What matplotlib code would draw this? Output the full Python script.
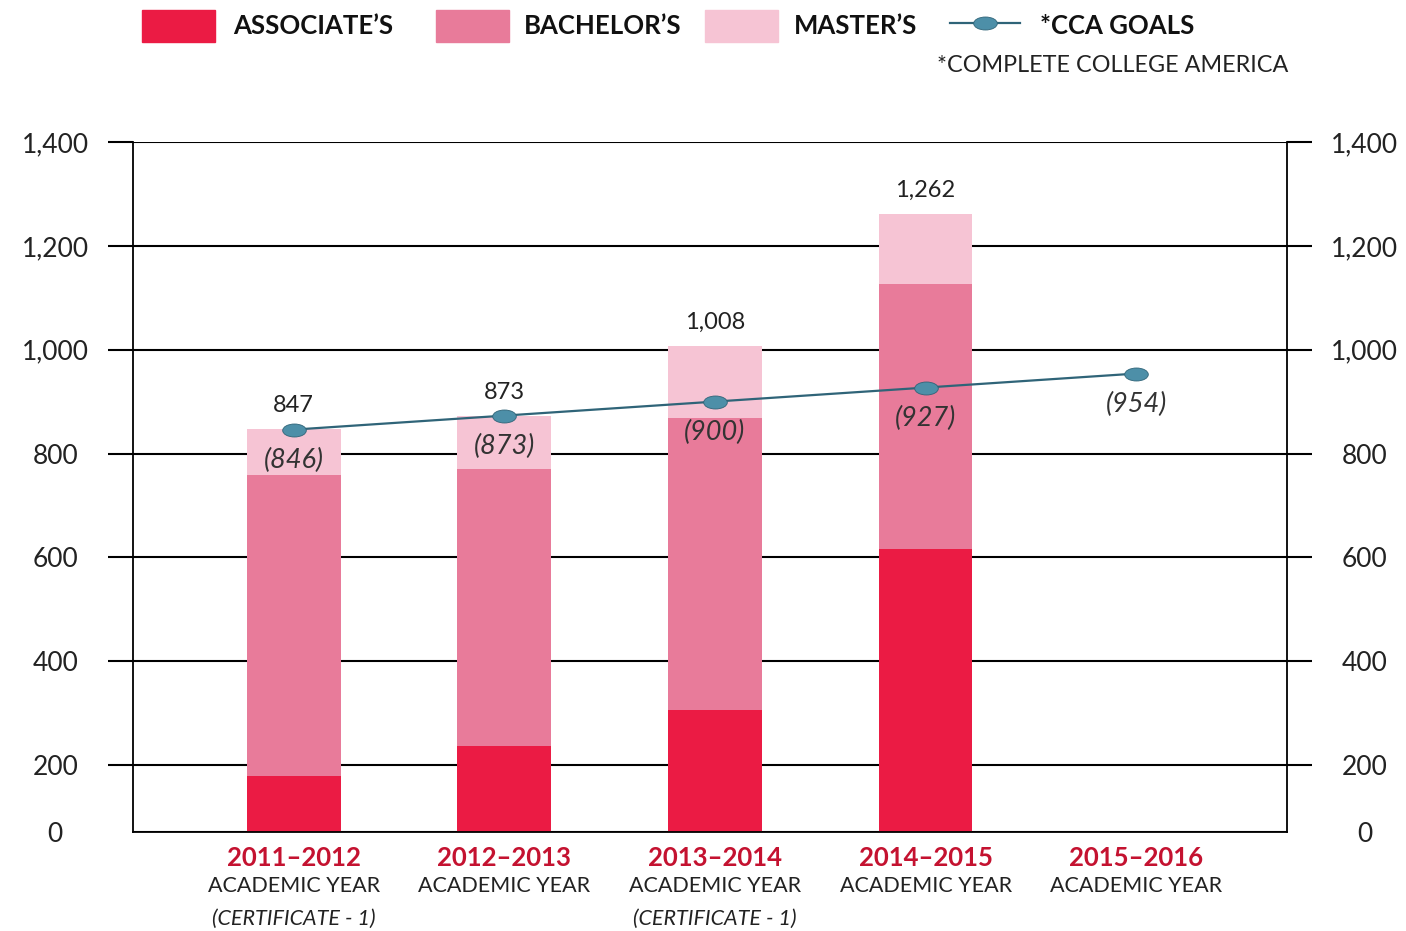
import matplotlib
matplotlib.use("Agg")
import matplotlib.pyplot as plt
import numpy as np
from matplotlib.patches import Rectangle
from matplotlib.lines import Line2D
from matplotlib.path import Path
from matplotlib.transforms import Affine2D

plt.rcParams['font.family'] = ['Lato', 'DejaVu Sans']

# datos
anios = ['2011–2012', '2012–2013', '2013–2014', '2014–2015', '2015–2016']
notas = ['(CERTIFICATE - 1)', '', '(CERTIFICATE - 1)', '', '']
asociado = [179, 237, 306, 617]
grado = [579, 534, 563, 510]
master = [89, 102, 139, 135]
metas_cca = [846, 873, 900, 927, 954]
ticks_y = [200, 400, 600, 800, 1000, 1200, 1400]

c_asoc = '#EB1B44'
c_grado = '#E87B9A'
c_master = '#F6C4D4'
c_linea = '#2F6478'
c_punto = '#4D8FA8'
c_anio = '#C41230'

fig = plt.figure(figsize=(14.06, 9.31), dpi=100)
ax = fig.add_axes([133 / 1406, 1 - 832 / 931, (1287 - 133) / 1406, (832 - 142) / 931])

x = np.arange(len(anios))
xb = x[:len(asociado)]
asociado = np.array(asociado)
grado = np.array(grado)
master = np.array(master)
total = asociado + grado + master

ancho = 0.445
ax.bar(xb, asociado, ancho, color=c_asoc, zorder=2)
ax.bar(xb, grado, ancho, bottom=asociado, color=c_grado, zorder=2)
ax.bar(xb, master, ancho, bottom=asociado + grado, color=c_master, zorder=2)

# marcador eliptico
elipse = Path.unit_circle().transformed(Affine2D().scale(1.0, 0.55))
ax.plot(x, metas_cca, color=c_linea, lw=1.6, marker=elipse, markersize=17,
        markerfacecolor=c_punto, markeredgecolor=c_linea, markeredgewidth=0.6, zorder=4)

for xi, t in zip(xb, total):
    ax.annotate(f'{t:,}', (xi, t), xytext=(0, 17), textcoords='offset points',
                ha='center', va='center', fontsize=17, color='#222222', zorder=5)
for xi, m in zip(x, metas_cca):
    ax.annotate(f'({m})', (xi, m), xytext=(0, -22), textcoords='offset points',
                ha='center', va='center', fontsize=19.5, style='italic',
                color='#333333', zorder=5)

ax.set_xlim(-0.763, 4.716)
ax.set_ylim(71, 1400)
ax.set_yticks([71] + ticks_y)
ax.set_yticklabels(['0'] + [f'{v:,}' for v in ticks_y])
ax.set_xticks([])
ax.tick_params(axis='y', left=True, right=True, labelleft=True, labelright=True,
               length=18, width=1.5, pad=38, labelsize=19, labelcolor='#222222')
for lab in ax.get_yticklabels(which='both'):
    lab.set_horizontalalignment('center')
for tk in ax.yaxis.get_major_ticks():
    tk.label1.set_horizontalalignment('center')
    tk.label2.set_horizontalalignment('center')
t0 = ax.yaxis.get_major_ticks()[0]
t0.tick1line.set_visible(False)
t0.tick2line.set_visible(False)
ax.grid(axis='y', color='black', lw=1.5, zorder=0)
ax.set_axisbelow(True)
ax.spines['top'].set_visible(False)
for s in ['left', 'right', 'bottom']:
    ax.spines[s].set_linewidth(1.3)

tr = ax.get_xaxis_transform()
for xi, a, n in zip(x, anios, notas):
    ax.text(xi, -0.038, a, transform=tr, ha='center', va='center',
            fontsize=18.5, fontweight='bold', color=c_anio)
    ax.text(xi, -0.078, 'ACADEMIC YEAR', transform=tr, ha='center', va='center',
            fontsize=15.5, color='#222222')
    if n:
        ax.text(xi, -0.126, n, transform=tr, ha='center', va='center',
                fontsize=15.5, style='italic', color='#222222')

# leyenda manual
def fx(px):
    return px / 1406

def fy(py):
    return 1 - py / 931

for x0, col in [(142, c_asoc), (436, c_grado), (705, c_master)]:
    fig.add_artist(Rectangle((fx(x0), fy(42)), fx(73), 32 / 931, color=col,
                             transform=fig.transFigure))
fig.add_artist(Line2D([fx(950), fx(1020)], [fy(23), fy(23)], color=c_linea, lw=1.6,
                      transform=fig.transFigure))
fig.add_artist(Line2D([fx(985)], [fy(23)], marker=elipse, markersize=17,
                      markerfacecolor=c_punto, markeredgecolor=c_linea,
                      markeredgewidth=0.6, transform=fig.transFigure))
for x0, txt in [(233, "ASSOCIATE’S"), (524, "BACHELOR’S"), (794, "MASTER’S"), (1040, '*CCA GOALS')]:
    fig.text(fx(x0), fy(26), txt, ha='left', va='center', fontsize=18.5,
             fontweight='bold', color='#111111')
fig.text(fx(1288), fy(66), '*COMPLETE COLLEGE AMERICA', ha='right', va='center',
         fontsize=16.8, color='#222222')

fig.savefig('out.png', dpi=100)
